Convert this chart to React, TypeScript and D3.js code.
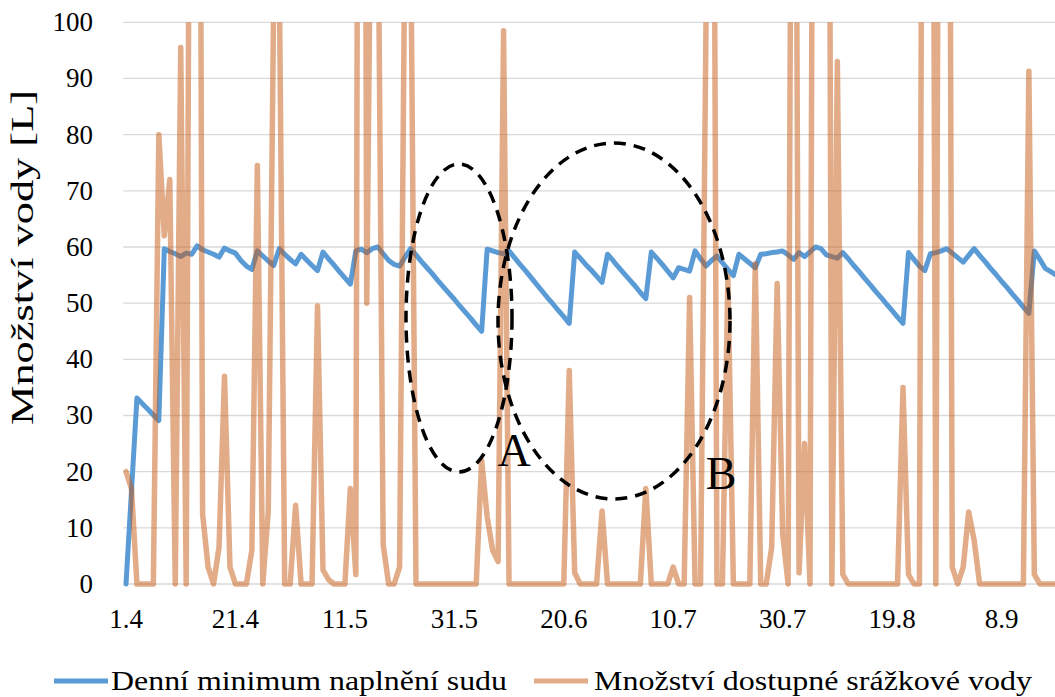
import React from "react";
import * as d3 from "d3";

// Daily values starting 1.4 (one per day)
const barrelMin: number[] = [
  0, 16.5, 33.1, 32.1, 31.1, 30.1, 29.1, 59.7, 59.2, 58.8,
  58.3, 58.9, 58.7, 60.2, 59.5, 59.1, 58.7, 58.2, 59.8, 59.3,
  58.9, 57.6, 56.6, 56.0, 59.3, 58.4, 57.5, 56.7, 59.7, 58.7,
  57.8, 57.0, 58.7, 57.7, 56.7, 55.8, 59.1, 57.9, 56.8, 55.6,
  54.5, 53.4, 59.3, 59.6, 59.0, 59.7, 60.0, 58.8, 57.6, 56.9,
  56.6, 58.2, 59.7, 58.6, 57.4, 56.3, 55.2, 54.0, 52.9, 51.8,
  50.7, 49.5, 48.4, 47.3, 46.1, 45.0, 59.6, 59.3, 59.0, 58.8,
  59.3, 58.1, 56.9, 55.8, 54.6, 53.4, 52.2, 51.0, 49.9, 48.7,
  47.6, 46.4, 59.1, 58.0, 56.9, 55.9, 54.8, 53.7, 58.7, 57.6,
  56.4, 55.3, 54.2, 53.1, 51.9, 50.8, 59.1, 58.0, 56.9, 55.7,
  54.5, 56.3, 56.0, 55.7, 59.3, 57.9, 56.6, 57.6, 58.4, 57.2,
  56.0, 54.9, 58.7, 57.9, 57.1, 56.3, 58.7, 58.8, 59.0, 59.1,
  59.3, 58.6, 57.8, 59.0, 58.3, 59.1, 60.0, 59.7, 58.6, 58.3,
  58.0, 59.0, 57.9, 56.7, 55.6, 54.4, 53.3, 52.1, 51.0, 49.8,
  48.7, 47.5, 46.4, 59.0, 57.8, 56.6, 55.8, 58.8, 59.0, 59.3,
  59.7, 58.9, 58.1, 57.3, 58.5, 59.7, 58.5, 57.4, 56.2, 55.1,
  53.9, 52.8, 51.6, 50.5, 49.3, 48.2, 59.3, 57.8, 56.2, 55.6,
  55.0,
];

const rainWater: number[] = [
  20, 17, 0, 0, 0, 0, 80, 62, 72, 0,
  95.5, 0, 230, 300, 12.5, 3, 0, 6.5, 37, 3,
  0, 0, 0, 6, 74.5, 0, 13, 105, 110, 0,
  0, 14, 0, 0, 0, 49.5, 2.5, 0.8, 0, 0,
  0, 17, 1.7, 400, 50, 150, 130, 7, 0, 0,
  3, 120, 120, 0, 0, 0, 0, 0, 0, 0,
  0, 0, 0, 0, 0, 22, 12, 6, 4, 98.5,
  0, 0, 0, 0, 0, 0, 0, 0, 0, 0,
  0, 38, 2, 0, 0, 0, 0, 13, 0, 0,
  0, 0, 0, 0, 0, 17, 0, 0, 0, 0,
  3, 0, 0, 51, 0, 0, 100, 250, 0, 0,
  54.7, 0, 0, 0, 0, 57, 0, 0, 6.5, 53.5,
  9, 0, 250, 2, 25, 0, 300, 300, 300, 0,
  93, 1.7, 0, 0, 0, 0, 0, 0, 0, 0,
  0, 0, 35, 1.7, 0, 0, 300, 300, 0, 300,
  300, 3, 0, 3, 12.8, 7.8, 0, 0, 0, 0,
  0, 0, 0, 0, 0, 91.3, 1.7, 0, 0, 0,
  0,
];

const xTickLabels: string[] = ["1.4", "21.4", "11.5", "31.5", "20.6", "10.7", "30.7", "19.8", "8.9"];
const xTickStep = 20;
const yTicks: number[] = [0, 10, 20, 30, 40, 50, 60, 70, 80, 90, 100];

const seriesNames = ["Denní minimum naplnění sudu", "Množství dostupné srážkové vody"];
const annotations = [
  { label: "A", cx: 459, cy: 318, rx: 53, ry: 154, tx: 514, ty: 466 },
  { label: "B", cx: 614, cy: 321, rx: 116, ry: 178, tx: 721, ty: 489 },
];

const W = 1055;
const H = 697;
const FONT = "'Liberation Serif', 'Times New Roman', serif";
const BLUE = "#5B9BD5";
const ORANGE = "rgb(197,90,17)";

export default function App() {
  const x = d3.scaleLinear().domain([0, 160]).range([126, 1001.5]);
  const y = d3.scaleLinear().domain([0, 100]).range([584, 22.3]);
  const plotLeft = 123.3;
  const plotRight = W + 10;

  const line = d3
    .line<number>()
    .x((_, i) => x(i))
    .y((v) => y(v));

  return (
    <svg
      width={W}
      height={H}
      style={{ position: "absolute", left: 0, top: 0, background: "#fff" }}
      fontFamily={FONT}
    >
      <defs>
        <clipPath id="plotClip">
          <rect x={plotLeft - 10} y={y(100)} width={plotRight - plotLeft + 10} height={y(0) - y(100) + 20} />
        </clipPath>
      </defs>
      <rect x={0} y={0} width={W} height={H} fill="#fff" />
      {yTicks.map((t) => (
        <line key={t} x1={plotLeft} x2={plotRight} y1={y(t)} y2={y(t)} stroke="#d9d9d9" strokeWidth={1.3} />
      ))}
      {yTicks.map((t) => (
        <text key={"yl" + t} x={93} y={y(t) + 9} textAnchor="end" fontSize={27} fill="#000">
          {t}
        </text>
      ))}
      {xTickLabels.map((lab, i) => (
        <text key={"xl" + i} x={x(i * xTickStep)} y={628} textAnchor="middle" fontSize={27} fill="#000">
          {lab}
        </text>
      ))}
      <text
        transform={`translate(33,${257.5}) rotate(-90)`}
        textAnchor="middle"
        fontSize={31}
        textLength={335}
        lengthAdjust="spacingAndGlyphs"
        fill="#000"
      >
        Množství vody [L]
      </text>
      <g clipPath="url(#plotClip)">
        <path d={line(barrelMin) || ""} fill="none" stroke={BLUE} strokeWidth={5} strokeLinejoin="round" strokeLinecap="round" />
        <path
          d={line(rainWater) || ""}
          fill="none"
          stroke={ORANGE}
          strokeOpacity={0.5}
          strokeWidth={5.5}
          strokeLinejoin="round"
          strokeLinecap="round"
        />
      </g>
      {annotations.map((a) => (
        <g key={a.label}>
          <ellipse cx={a.cx} cy={a.cy} rx={a.rx} ry={a.ry} fill="none" stroke="#000" strokeWidth={3.5} strokeDasharray="12 8" />
          <text x={a.tx} y={a.ty} textAnchor="middle" fontSize={46} fill="#000">
            {a.label}
          </text>
        </g>
      ))}
      <g>
        <line x1={54} x2={108} y1={681} y2={681} stroke={BLUE} strokeWidth={5} />
        <text x={111} y={690} fontSize={28} textLength={396} lengthAdjust="spacingAndGlyphs" fill="#000">
          {seriesNames[0]}
        </text>
        <line x1={534} x2={588} y1={681} y2={681} stroke={ORANGE} strokeOpacity={0.5} strokeWidth={5} />
        <text x={594} y={690} fontSize={28} textLength={438} lengthAdjust="spacingAndGlyphs" fill="#000">
          {seriesNames[1]}
        </text>
      </g>
    </svg>
  );
}
